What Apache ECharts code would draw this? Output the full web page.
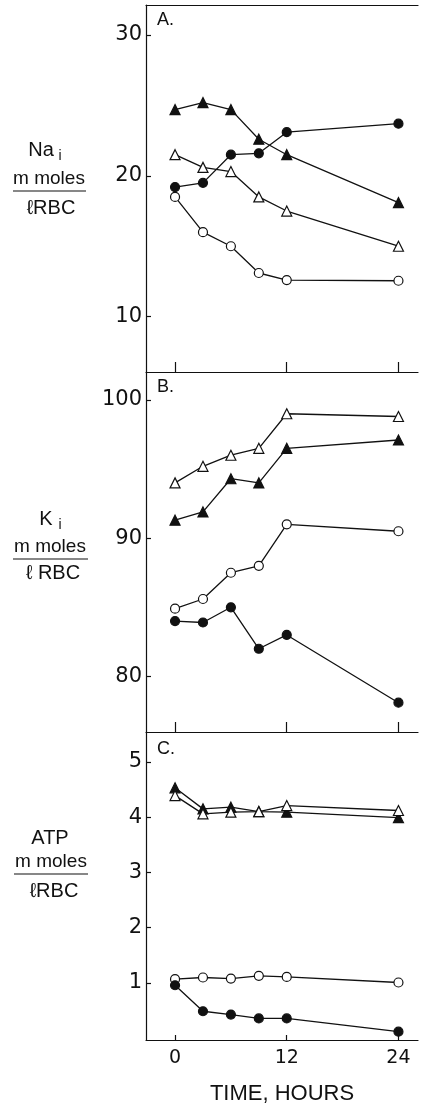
<!DOCTYPE html>
<html>
<head>
<meta charset="utf-8">
<script src="https://cdn.jsdelivr.net/npm/echarts@6/dist/echarts.min.js"></script>
<style>
  html, body { margin: 0; padding: 0; background: #fff; }
  #main { width: 422px; height: 1103px; }
</style>
</head>
<body>
<div id="main"></div>
<script>
// sampling times (hours)
var hours = [0, 3, 6, 9, 12, 24];
var timeTicks = [0, 12, 24];

// A. Na_i
var naClosedCircle = [19.2, 19.5, 21.5, 21.6, 23.1, 23.7];
var naOpenCircle = [18.5, 16.0, 15.0, 13.1, 12.6, 12.55];
var naClosedTri = [24.7, 25.2, 24.7, 22.6, 21.5, 18.1];
var naOpenTri = [21.5, 20.6, 20.3, 18.5, 17.5, 15.0];
var naTicks = [10, 20, 30];

// B. K_i
var kClosedCircle = [84.0, 83.9, 85.0, 82.0, 83.0, 78.1];
var kOpenCircle = [84.9, 85.6, 87.5, 88.0, 91.0, 90.5];
var kClosedTri = [91.3, 91.9, 94.3, 94.0, 96.5, 97.1];
var kOpenTri = [94.0, 95.2, 96.0, 96.5, 99.0, 98.8];
var kTicks = [80, 90, 100];

// C. ATP
var atpClosedCircle = [0.96, 0.49, 0.43, 0.36, 0.36, 0.12];
var atpOpenCircle = [1.07, 1.10, 1.08, 1.13, 1.11, 1.01];
var atpClosedTri = [4.53, 4.15, 4.18, 4.10, 4.09, 3.99];
var atpOpenTri = [4.39, 4.06, 4.09, 4.10, 4.21, 4.12];
var atpTicks = [1, 2, 3, 4, 5];

var ink = '#111';
var font = 'Liberation Sans';
var numFont = 'DejaVu Sans';

function pairs(vals) {
  return hours.map(function (h, i) { return [h, vals[i]]; });
}

function line(vals, panel, symbol, filled) {
  return {
    type: 'line',
    xAxisIndex: panel,
    yAxisIndex: panel,
    data: pairs(vals),
    symbol: symbol,
    symbolSize: symbol === 'triangle' ? 10 : 9,
    showAllSymbol: true,
    lineStyle: { color: ink, width: 1.3 },
    itemStyle: { color: filled ? ink : '#fff', borderColor: ink, borderWidth: 1.2 },
    emphasis: { disabled: true },
    animation: false,
    z: 3
  };
}

function xAxis(grid, tickLen, showLabels) {
  return {
    type: 'value',
    gridIndex: grid,
    min: -3.12,
    max: 26.1,
    splitLine: { show: false },
    axisLine: { show: true, onZero: false, lineStyle: { color: ink, width: 1.2 } },
    axisTick: { show: true, inside: true, length: tickLen, customValues: timeTicks, lineStyle: { color: ink, width: 1.2 } },
    axisLabel: { show: showLabels, customValues: timeTicks, color: ink, fontFamily: numFont, fontSize: 19, margin: 9 },
    name: showLabels ? 'TIME, HOURS' : '',
    nameLocation: 'middle',
    nameGap: 43,
    nameTextStyle: { color: ink, fontFamily: font, fontSize: 22, verticalAlign: 'top' }
  };
}

function yAxis(grid, min, max, ticks) {
  return {
    type: 'value',
    gridIndex: grid,
    min: min,
    max: max,
    splitLine: { show: false },
    axisLine: { show: true, onZero: false, lineStyle: { color: ink, width: 1.2 } },
    axisTick: { show: true, inside: true, length: 5, customValues: ticks, lineStyle: { color: ink, width: 1.2 } },
    axisLabel: { customValues: ticks, color: ink, fontFamily: numFont, fontSize: 21, margin: 4 }
  };
}

function txt(x, y, s, size, align) {
  return {
    type: 'text', x: x, y: y, silent: true,
    style: { text: s, fill: ink, font: size + 'px "' + font + '"', align: align || 'center', verticalAlign: 'middle' }
  };
}

function bar(x1, x2, y) {
  return { type: 'line', silent: true, shape: { x1: x1, y1: y, x2: x2, y2: y }, style: { stroke: ink, lineWidth: 1.2 } };
}

var chart = echarts.init(document.getElementById('main'), null, { renderer: 'canvas' });

chart.setOption({
  backgroundColor: '#fff',
  animation: false,
  grid: [
    { left: 146, top: 5, width: 272, height: 367, outerBoundsMode: 'none', containLabel: false },
    { left: 146, top: 372, width: 272, height: 360, outerBoundsMode: 'none', containLabel: false },
    { left: 146, top: 732, width: 272, height: 308, outerBoundsMode: 'none', containLabel: false }
  ],
  xAxis: [
    xAxis(0, 10, false),
    xAxis(1, 10, false),
    xAxis(2, 5, true),
    {
      type: 'value', gridIndex: 0, position: 'top', min: -3.12, max: 26.1,
      splitLine: { show: false }, axisTick: { show: false }, axisLabel: { show: false },
      axisLine: { show: true, onZero: false, lineStyle: { color: ink, width: 1.2 } }
    }
  ],
  yAxis: [
    yAxis(0, 6.07, 32.13, naTicks),
    yAxis(1, 75.98, 102.02, kTicks),
    yAxis(2, -0.03, 5.54, atpTicks)
  ],
  series: [
    line(naClosedTri, 0, 'triangle', true),
    line(naOpenTri, 0, 'triangle', false),
    line(naClosedCircle, 0, 'circle', true),
    line(naOpenCircle, 0, 'circle', false),

    line(kOpenTri, 1, 'triangle', false),
    line(kClosedTri, 1, 'triangle', true),
    line(kOpenCircle, 1, 'circle', false),
    line(kClosedCircle, 1, 'circle', true),

    line(atpClosedTri, 2, 'triangle', true),
    line(atpOpenTri, 2, 'triangle', false),
    line(atpOpenCircle, 2, 'circle', false),
    line(atpClosedCircle, 2, 'circle', true)
  ],
  graphic: [
    // panel letters
    txt(157, 20, 'A.', 18, 'left'),
    txt(157, 387, 'B.', 18, 'left'),
    txt(157, 749, 'C.', 18, 'left'),

    // A: Na_i / m moles / l RBC
    txt(41, 150, 'Na', 20),
    txt(60, 156, 'i', 14),
    txt(49, 179, 'm moles', 19),
    bar(13, 86, 191),
    txt(51, 208, 'ℓRBC', 20),

    // B: K_i
    txt(46, 519, 'K', 20),
    txt(60, 525, 'i', 14),
    txt(50, 547, 'm moles', 19),
    bar(13, 88, 559),
    txt(53, 573, 'ℓ RBC', 20),

    // C: ATP
    txt(50, 838, 'ATP', 20),
    txt(51, 862, 'm moles', 19),
    bar(14, 88, 874),
    txt(54, 891, 'ℓRBC', 20)
  ]
});
</script>
</body>
</html>
